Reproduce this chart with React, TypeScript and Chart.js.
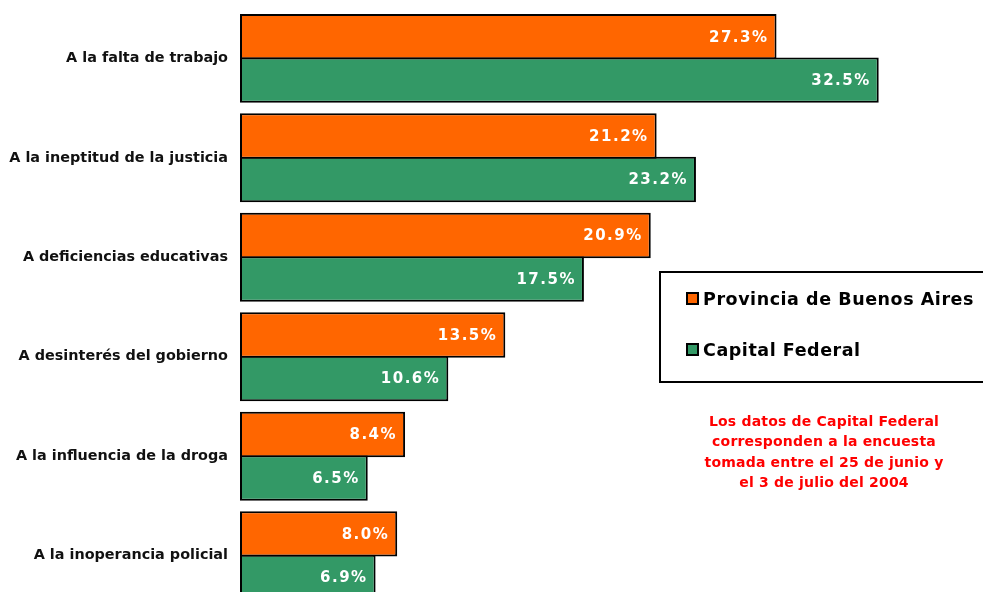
import React, { useEffect, useRef } from "react";
import { Chart, registerables } from "chart.js";

Chart.register(...registerables);

const categories = [
  "A la falta de trabajo",
  "A la ineptitud de la justicia",
  "A deficiencias educativas",
  "A desinterés del gobierno",
  "A la influencia de la droga",
  "A la inoperancia policial",
];
const provinciaValues = [27.3, 21.2, 20.9, 13.5, 8.4, 8.0];
const capitalValues = [32.5, 23.2, 17.5, 10.6, 6.5, 6.9];
const seriesNames = ["Provincia de Buenos Aires", "Capital Federal"];
const noteLines = [
  "Los datos de Capital Federal",
  "corresponden a la encuesta",
  "tomada entre el 25 de junio y",
  "el 3 de julio del 2004",
];

const ORANGE = "#FF6600";
const GREEN = "#339966";
const FONT = "'DejaVu Sans', Verdana, sans-serif";
const SHIFT = 12;

const overlayPlugin = {
  id: "overlay",
  afterDatasetsDraw(chart: any) {
    const ctx = chart.ctx;
    ctx.save();
    // value labels
    ctx.font = `bold 15px ${FONT}`;
    (ctx as any).letterSpacing = "1.5px";
    ctx.fillStyle = "#ffffff";
    ctx.textAlign = "right";
    ctx.textBaseline = "middle";
    chart.data.datasets.forEach((ds: any, di: number) => {
      const meta = chart.getDatasetMeta(di);
      meta.data.forEach((el: any, i: number) => {
        const v = ds.data[i] as number;
        ctx.fillText(v.toFixed(1) + "%", el.x - 8, el.y + 1);
      });
    });
    // legend box (canvas is shifted up by SHIFT)
    const o = SHIFT;
    ctx.lineWidth = 2;
    ctx.strokeStyle = "#000";
    ctx.strokeRect(660, 272 + o, 340, 110);
    const colors = [ORANGE, GREEN];
    const ys = [299 + o, 350 + o];
    (ctx as any).letterSpacing = "0.55px";
    seriesNames.forEach((name, i) => {
      ctx.fillStyle = colors[i];
      ctx.fillRect(687, ys[i] - 6, 11, 11);
      ctx.lineWidth = 2;
      ctx.strokeStyle = "#000";
      ctx.strokeRect(687, ys[i] - 6, 11, 11);
      ctx.fillStyle = "#000";
      ctx.font = `bold 17.5px ${FONT}`;
      ctx.textAlign = "left";
      ctx.textBaseline = "middle";
      ctx.fillText(name, 703, ys[i] + 1);
    });
    // note
    (ctx as any).letterSpacing = "0.2px";
    ctx.fillStyle = "#FF0000";
    ctx.font = `bold 14px ${FONT}`;
    ctx.textAlign = "center";
    noteLines.forEach((line, i) => {
      ctx.fillText(line, 824, 422 + o + i * 20.5);
    });
    ctx.restore();
  },
};

export default function App() {
  const ref = useRef<HTMLCanvasElement | null>(null);
  useEffect(() => {
    if (!ref.current) return;
    const chart = new Chart(ref.current, {
      type: "bar",
      data: {
        labels: categories,
        datasets: [
          {
            label: seriesNames[0],
            data: provinciaValues,
            backgroundColor: ORANGE,
            borderColor: "#000",
            borderWidth: 2,
            borderSkipped: false,
            inflateAmount: 0,
            categoryPercentage: 0.875,
            barPercentage: 1.045,
          },
          {
            label: seriesNames[1],
            data: capitalValues,
            backgroundColor: GREEN,
            borderColor: "#000",
            borderWidth: 2,
            borderSkipped: false,
            inflateAmount: 0,
            categoryPercentage: 0.875,
            barPercentage: 1.045,
          },
        ],
      },
      options: {
        indexAxis: "y",
        responsive: false,
        animation: false,
        layout: { padding: { top: 8, bottom: 15, right: 6, left: 0 } },
        plugins: {
          legend: { display: false },
          tooltip: { enabled: false },
        },
        scales: {
          x: {
            display: false,
            min: 0,
            max: 37.5,
          },
          y: {
            grid: { display: false, drawTicks: false },
            border: { display: false },
            ticks: {
              padding: 12,
              color: "#111",
              font: { family: FONT, weight: "bold", size: 14.4 },
            },
            afterFit(scale: any) {
              scale.width = 240;
            },
          },
        },
      },
      plugins: [overlayPlugin],
    });
    return () => chart.destroy();
  }, []);
  return (
    <div
      style={{
        position: "absolute",
        left: 0,
        top: 0,
        width: 983,
        height: 592,
        overflow: "hidden",
        background: "#fff",
      }}
    >
      <canvas
        ref={ref}
        width={983}
        height={638}
        style={{ display: "block", marginTop: -SHIFT }}
      />
    </div>
  );
}
